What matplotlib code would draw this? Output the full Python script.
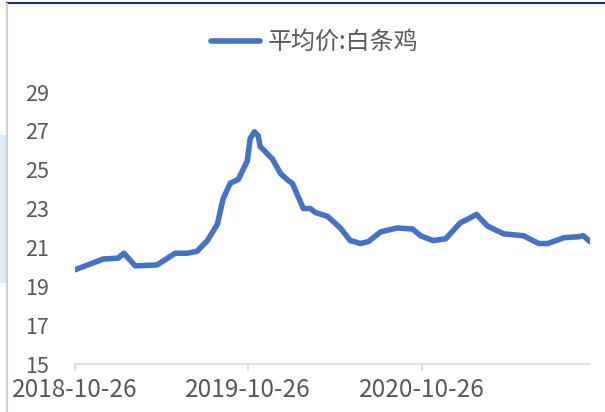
import matplotlib
matplotlib.use("Agg")
import matplotlib.pyplot as plt
import matplotlib.dates as mdates
from matplotlib.patches import Rectangle
from matplotlib.lines import Line2D
import pandas as pd

plt.rcParams['font.family'] = ['Noto Sans CJK SC', 'DejaVu Sans']

series_name = "平均价:白条鸡"
dates = ["2018-10-26", "2018-12-03", "2018-12-24", "2019-01-25", "2019-02-06",
         "2019-03-02", "2019-04-17", "2019-05-25", "2019-06-19", "2019-07-10",
         "2019-08-01", "2019-08-22", "2019-09-03", "2019-09-18", "2019-10-05",
         "2019-10-24", "2019-10-30", "2019-11-08", "2019-11-16", "2019-11-20",
         "2019-12-16", "2020-01-02", "2020-01-18", "2020-01-27", "2020-02-19",
         "2020-03-05", "2020-03-15", "2020-04-10", "2020-05-07", "2020-05-28",
         "2020-06-12", "2020-06-18", "2020-07-05", "2020-07-31", "2020-09-04",
         "2020-10-06", "2020-10-23", "2020-11-19", "2020-12-15", "2021-01-15",
         "2021-01-30", "2021-02-18", "2021-03-13", "2021-04-16", "2021-05-28",
         "2021-06-29", "2021-07-18", "2021-08-21", "2021-09-21", "2021-10-01",
         "2021-10-15"]
prices = [19.85, 20.2, 20.4, 20.45, 20.7,
          20.05, 20.1, 20.7, 20.7, 20.8,
          21.35, 22.2, 23.5, 24.3, 24.5,
          25.45, 26.6, 26.95, 26.75, 26.2,
          25.55, 24.8, 24.45, 24.3, 23.0,
          23.0, 22.8, 22.6, 22.0, 21.35,
          21.25, 21.2, 21.3, 21.8, 22.0,
          21.95, 21.6, 21.35, 21.45, 22.27,
          22.45, 22.7, 22.1, 21.7, 21.6,
          21.2, 21.2, 21.5, 21.55, 21.6,
          21.3]
tick_dates = ["2018-10-26", "2019-10-26", "2020-10-26"]
y_ticks = [15, 17, 19, 21, 23, 25, 27, 29]

x = pd.to_datetime(dates)
W, H = 605, 412
fig = plt.figure(figsize=(W / 100, H / 100), dpi=100)
ax = fig.add_axes([75 / W, 1 - 364 / H, (590 - 75) / W, (364 - 92) / H])

line, = ax.plot(x, prices, color="#4472C4", lw=4, solid_capstyle="round",
                solid_joinstyle="round", label=series_name)

ax.set_ylim(15, 29)
ax.set_yticks(y_ticks)
ax.set_xlim(x[0], x[-1])
ax.set_xticks(pd.to_datetime(tick_dates))
ax.xaxis.set_major_formatter(mdates.DateFormatter("%Y-%m-%d"))

for s in ["top", "right", "left"]:
    ax.spines[s].set_visible(False)
ax.spines["bottom"].set_color("#D9D9D9")
ax.spines["bottom"].set_linewidth(1.2)
ax.tick_params(axis="y", length=0, pad=18.5, labelsize=15.5, labelcolor="#595959")
ax.tick_params(axis="x", length=5, width=1.2, color="#D9D9D9", direction="out",
               pad=4.5, labelsize=17.5, labelcolor="#595959")
for lbl in ax.get_yticklabels():
    lbl.set_va("center_baseline")

fig.legend(handles=[line], loc="center", bbox_to_anchor=(315 / W, 1 - 42 / H),
           frameon=False, fontsize=17.3, labelcolor="#595959",
           handlelength=2.0, handletextpad=0.35)

# screenshot frame bits
fig.add_artist(Line2D([7 / W, 1], [1 - 3 / H, 1 - 3 / H], color="#1F2A8A", lw=1.5))
fig.add_artist(Line2D([7 / W, 7 / W], [0, 1 - 4 / H], color="#D0D0D0", lw=1.5))
fig.add_artist(Rectangle((0, 1 - 283 / H), 6 / W, (283 - 135) / H,
                         color="#DCEAF5", lw=0))

fig.savefig("out.png", dpi=100)
